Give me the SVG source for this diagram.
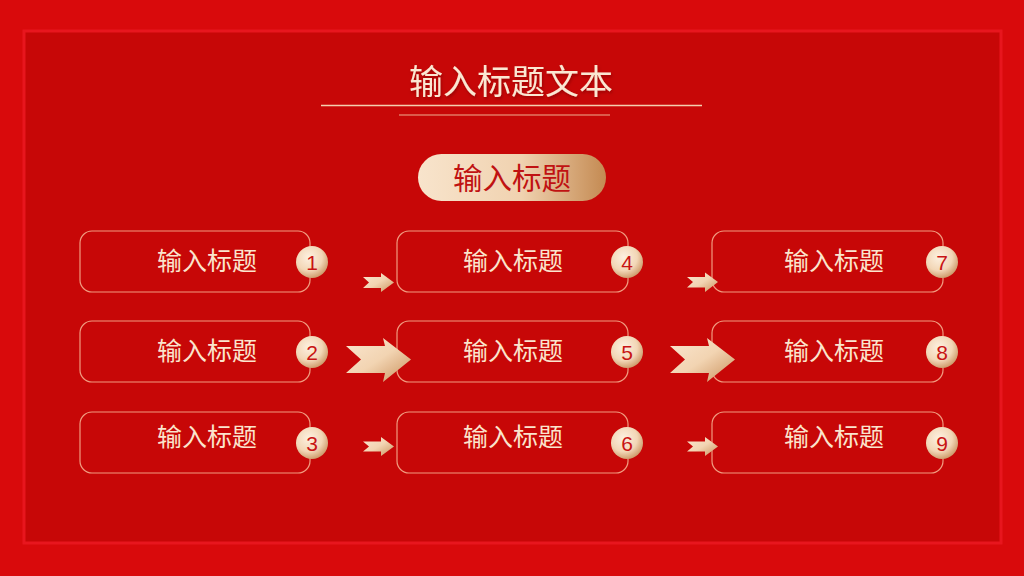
<svg xmlns="http://www.w3.org/2000/svg" width="1024" height="576" viewBox="0 0 1024 576">
<defs>
<linearGradient id="gold" x1="0" y1="0" x2="1" y2="0">
<stop offset="0" stop-color="#f8e4cc"/>
<stop offset="0.55" stop-color="#f0d2b0"/>
<stop offset="1" stop-color="#c48a52"/>
</linearGradient>
<linearGradient id="arrowG" x1="0" y1="0" x2="1" y2="1">
<stop offset="0" stop-color="#fae6cf"/>
<stop offset="0.5" stop-color="#f2d4b2"/>
<stop offset="1" stop-color="#c9915c"/>
</linearGradient>
<radialGradient id="ball" cx="0.4" cy="0.35" r="0.7">
<stop offset="0" stop-color="#fdf0e0"/>
<stop offset="0.6" stop-color="#f2d6b6"/>
<stop offset="1" stop-color="#c99462"/>
</radialGradient>
<filter id="sh" x="-10%" y="-30%" width="120%" height="160%">
<feDropShadow dx="1" dy="2" stdDeviation="1.5" flood-color="#6a0000" flood-opacity="0.5"/>
</filter>
<style>
.box{fill:none;stroke:#f19c80;stroke-width:1.2}
.bt{font-family:"Noto Sans CJK SC","Noto Sans",sans-serif;font-size:25px;fill:#fbe4cd;text-anchor:middle}
.num{font-family:"Liberation Sans",Arial,sans-serif;font-size:21px;fill:#c81414;text-anchor:middle}
.ball{fill:url(#ball)}
.arr{fill:url(#arrowG)}
</style>
</defs>
<rect width="1024" height="576" fill="#d90a0c"/>
<rect x="24" y="31" width="977" height="512" fill="#c70707" stroke="#e8161e" stroke-width="3"/>

<g id="title">
<text x="511" y="94" font-family="'Noto Sans CJK SC','Noto Sans',sans-serif" font-size="34" fill="#fbe7d2" text-anchor="middle" filter="url(#sh)">输入标题文本</text>
<line x1="321" y1="105.5" x2="702" y2="105.5" stroke="#f5cfae" stroke-width="1.5"/>
<line x1="399" y1="115" x2="610" y2="115" stroke="#f0b090" stroke-width="1"/>
</g>

<g id="pill">
<rect x="418" y="154" width="188" height="47" rx="23.5" fill="url(#gold)"/>
<text x="512" y="189" font-family="'Noto Sans CJK SC','Noto Sans',sans-serif" font-size="29.5" fill="#c01212" text-anchor="middle">输入标题</text>
</g>

<g id="n1"><rect class="box" x="80" y="231" width="230" height="61" rx="12"/><text class="bt" x="207" y="270">输入标题</text><circle class="ball" cx="312" cy="262" r="16"/><text class="num" x="312" y="269.5">1</text></g>
<g id="n2"><rect class="box" x="80" y="321" width="230" height="61" rx="12"/><text class="bt" x="207" y="360">输入标题</text><circle class="ball" cx="312" cy="352" r="16"/><text class="num" x="312" y="359.5">2</text></g>
<g id="n3"><rect class="box" x="80" y="412" width="230" height="61" rx="12"/><text class="bt" x="207" y="446">输入标题</text><circle class="ball" cx="312" cy="443" r="16"/><text class="num" x="312" y="450.5">3</text></g>

<g id="n4"><rect class="box" x="397" y="231" width="231" height="61" rx="12"/><text class="bt" x="513" y="270">输入标题</text><circle class="ball" cx="627" cy="262" r="16"/><text class="num" x="627" y="269.5">4</text></g>
<g id="n5"><rect class="box" x="397" y="321" width="231" height="61" rx="12"/><text class="bt" x="513" y="360">输入标题</text><circle class="ball" cx="627" cy="352" r="16"/><text class="num" x="627" y="359.5">5</text></g>
<g id="n6"><rect class="box" x="397" y="412" width="231" height="61" rx="12"/><text class="bt" x="513" y="446">输入标题</text><circle class="ball" cx="627" cy="443" r="16"/><text class="num" x="627" y="450.5">6</text></g>

<g id="n7"><rect class="box" x="712" y="231" width="231" height="61" rx="12"/><text class="bt" x="834" y="270">输入标题</text><circle class="ball" cx="942" cy="262" r="16"/><text class="num" x="942" y="269.5">7</text></g>
<g id="n8"><rect class="box" x="712" y="321" width="231" height="61" rx="12"/><text class="bt" x="834" y="360">输入标题</text><circle class="ball" cx="942" cy="352" r="16"/><text class="num" x="942" y="359.5">8</text></g>
<g id="n9"><rect class="box" x="712" y="412" width="231" height="61" rx="12"/><text class="bt" x="834" y="446">输入标题</text><circle class="ball" cx="942" cy="443" r="16"/><text class="num" x="942" y="450.5">9</text></g>

<g id="connectors">
<path class="arr" d="M363,277 L381,277 L381,273 L394,282.5 L381,292 L381,288 L363,288 L369,282.5 Z"/>
<path class="arr" d="M346,346 L385,346 L383,338 L411,359.5 L383,382 L385,373 L346,373 L361,359.5 Z"/>
<path class="arr" d="M363,441.5 L381,441.5 L381,437 L394,446.5 L381,456 L381,451.5 L363,451.5 L369,446.5 Z"/>
<path class="arr" d="M687,277 L705,277 L705,272.5 L718,282 L705,292 L705,287.5 L687,287.5 L693,282 Z"/>
<path class="arr" d="M670,346 L709,346 L707,338 L735,359.5 L707,382 L709,373 L670,373 L685,359.5 Z"/>
<path class="arr" d="M687,441.5 L705,441.5 L705,437 L718,446.5 L705,456 L705,451.5 L687,451.5 L693,446.5 Z"/>
</g>
</svg>
